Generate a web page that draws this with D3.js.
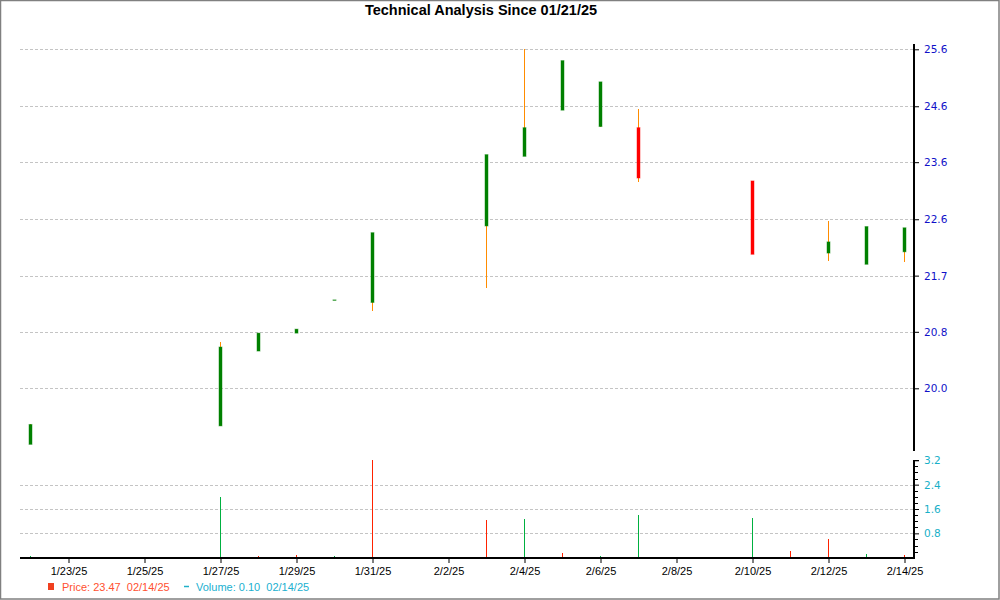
<!DOCTYPE html>
<html><head><meta charset="utf-8">
<script src="https://cdn.jsdelivr.net/npm/d3@7"></script>
<style>body{margin:0;background:#fff}svg{display:block}</style>
</head><body>
<script>
const title = "Technical Analysis Since 01/21/25";
const dates = ["2025-01-22","2025-01-27","2025-01-28","2025-01-29","2025-01-30","2025-01-31","2025-02-03","2025-02-04","2025-02-05","2025-02-06","2025-02-07","2025-02-10","2025-02-11","2025-02-12","2025-02-13","2025-02-14"];
const open  = [19.20, 19.46, 20.55, 20.82, 21.33, 21.29, 22.51, 23.68, 24.49, 24.20, 24.18, 23.26, null, 22.07, 21.89, 22.09];
const high  = [19.48, 20.69, 20.82, 20.88, 21.33, 22.40, 23.71, 25.60, 25.39, 25.00, 24.51, 23.26, null, 22.59, 22.50, 22.48];
const low   = [19.20, 19.46, 20.55, 20.82, 21.33, 21.16, 21.52, 23.68, 24.49, 24.20, 23.25, 22.05, null, 21.95, 21.89, 21.92];
const close = [19.48, 20.61, 20.82, 20.88, 21.33, 22.40, 23.71, 24.18, 25.39, 25.00, 23.31, 22.05, null, 22.25, 22.50, 22.48];
const volume = [0.06, 2.00, 0.07, 0.10, 0.07, 3.20, 1.24, 1.27, 0.15, 0.07, 1.40, 1.30, 0.22, 0.61, 0.13, 0.09];
const volumeUp = [true, true, false, false, true, false, false, true, false, true, true, true, false, false, true, false];
const priceTicks = [25.6, 24.56, 23.58, 22.62, 21.71, 20.84, 20.0];
const volumeTicks = [0.8, 1.6, 2.4, 3.2];
const volumeMinorTicks = [0.2, 0.4, 0.6, 1.0, 1.2, 1.4, 1.8, 2.0, 2.2, 2.6, 2.8, 3.0];
const xTickDates = ["2025-01-23","2025-01-25","2025-01-27","2025-01-29","2025-01-31","2025-02-02","2025-02-04","2025-02-06","2025-02-08","2025-02-10","2025-02-12","2025-02-14"];
const legendPrice = "Price: 23.47  02/14/25";
const legendVolume = "Volume: 0.10  02/14/25";

const W = 1000, H = 600;
const plotL = 20, plotR = 914;
const svg = d3.select("body").append("svg").attr("width", W).attr("height", H);

svg.append("rect").attr("x",0.5).attr("y",0.5).attr("width",998.5).attr("height",598.5)
  .attr("fill","#fff").attr("stroke","#808080").attr("stroke-width",1.5);

const parse = d3.utcParse("%Y-%m-%d");
const data = dates.map((d,i)=>({date:parse(d), o:open[i], h:high[i], l:low[i], c:close[i], v:volume[i], up:volumeUp[i]}));

const x = d3.scaleUtc().domain([parse("2025-01-22"), parse("2025-02-14")]).range([30.5, 904.5]);
const y = d3.scaleLog().domain([20.0, 25.6]).range([388.3, 49.3]);
const yv = d3.scaleLinear().domain([0, 3.2]).range([557.7, 460.3]);
const px = d => Math.floor(x(d)) + 0.5;

// title
svg.append("text").attr("x", 481).attr("y", 15).attr("text-anchor","middle")
  .attr("font-family","Liberation Sans, Arial, sans-serif").attr("font-weight","bold").attr("font-size",14.5)
  .attr("fill","#000").text(title);

// price grid
svg.append("g").selectAll("line").data(priceTicks).join("line")
  .attr("x1", plotL).attr("x2", plotR).attr("y1", d=>Math.round(y(d))+0.5).attr("y2", d=>Math.round(y(d))+0.5)
  .attr("stroke","#c4c4c4").attr("stroke-dasharray","3,2");
// volume grid
svg.append("g").selectAll("line").data(volumeTicks.filter(d=>d<3.2)).join("line")
  .attr("x1", plotL).attr("x2", plotR).attr("y1", d=>Math.round(yv(d))+0.5).attr("y2", d=>Math.round(yv(d))+0.5)
  .attr("stroke","#c4c4c4").attr("stroke-dasharray","3,2");

// price axis
const pAxis = d3.axisRight(y).tickValues(priceTicks).tickFormat(d3.format(".1f")).tickSize(5).tickPadding(5);
const gp = svg.append("g").attr("transform",`translate(${plotR},0)`).call(pAxis);
gp.select(".domain").remove();
gp.selectAll(".tick line").attr("stroke","#000");
gp.selectAll(".tick text").attr("fill","#1010c8").attr("font-family","DejaVu Sans, Verdana, sans-serif").attr("font-size",10.5);
svg.append("line").attr("x1",plotR).attr("x2",plotR).attr("y1",44).attr("y2",451).attr("stroke","#000").attr("stroke-width",2);

// volume axis
const vAxis = d3.axisRight(yv).tickValues(volumeTicks).tickFormat(d3.format(".1f")).tickSize(5).tickPadding(5);
const gv = svg.append("g").attr("transform",`translate(${plotR},0)`).call(vAxis);
gv.select(".domain").remove();
gv.selectAll(".tick line").attr("stroke","#000");
gv.selectAll(".tick text").attr("fill","#18b0c8").attr("font-family","DejaVu Sans, Verdana, sans-serif").attr("font-size",10.5);
svg.append("g").selectAll("line").data(volumeMinorTicks).join("line")
  .attr("x1",plotR).attr("x2",plotR+4).attr("y1",d=>Math.round(yv(d))+0.5).attr("y2",d=>Math.round(yv(d))+0.5).attr("stroke","#000");
svg.append("line").attr("x1",plotR).attr("x2",plotR+5).attr("y1",460.5).attr("y2",460.5).attr("stroke","#000");
svg.append("line").attr("x1",plotR).attr("x2",plotR).attr("y1",460).attr("y2",559).attr("stroke","#000").attr("stroke-width",2);

// x axis
const xAxis = d3.axisBottom(x).tickValues(xTickDates.map(parse)).tickFormat(d3.utcFormat("%-m/%-d/%y")).tickSize(5).tickPadding(4);
const gx = svg.append("g").attr("transform","translate(0,558)").call(xAxis);
gx.select(".domain").remove();
gx.selectAll(".tick line").attr("stroke","#000");
gx.selectAll(".tick text").attr("fill","#000").attr("font-family","Liberation Sans, Arial, sans-serif").attr("font-size",11);

// volume bars
svg.append("g").selectAll("rect").data(data).join("rect")
  .attr("x", d=>Math.floor(x(d.date))).attr("width", 1)
  .attr("y", d=>yv(d.v)).attr("height", d=>yv(0)-yv(d.v))
  .attr("fill", d=>d.up ? "#00b040" : "#ff2200")
  .attr("shape-rendering","crispEdges");

svg.append("line").attr("x1",plotL).attr("x2",plotR).attr("y1",558).attr("y2",558).attr("stroke","#000").attr("stroke-width",2);

// candles
const cd = data.filter(d=>d.o!=null);
const cg = svg.append("g");
cg.selectAll("rect.wick").data(cd).join("rect").attr("class","wick")
  .attr("x", d=>Math.floor(x(d.date))).attr("width", 1)
  .attr("y", d=>y(d.h)).attr("height", d=>y(d.l)-y(d.h))
  .attr("fill","#ff8c00").attr("shape-rendering","crispEdges");
cg.selectAll("rect.body").data(cd).join("rect").attr("class","body")
  .attr("x", d=>Math.floor(x(d.date))-1)
  .attr("width", 3)
  .attr("y", d=>Math.min(y(d.o), y(d.c)))
  .attr("height", d=>Math.max(0.5, Math.abs(y(d.o)-y(d.c))))
  .attr("fill", d=>d.c>=d.o ? "#008000" : "#ff0000")
  .attr("stroke", d=>d.c>=d.o ? "rgba(0,128,0,0.45)" : "rgba(255,0,0,0.45)")
  .attr("stroke-width",1);

// legend
const lg = svg.append("g").attr("font-family","Liberation Sans, Arial, sans-serif").attr("font-size",11).style("white-space","pre");
lg.append("rect").attr("x",48).attr("y",583).attr("width",6).attr("height",7).attr("fill","#f04020");
lg.append("text").attr("x",62).attr("y",591).attr("fill","#ff5030").attr("xml:space","preserve").text(legendPrice);
lg.append("line").attr("x1",184).attr("x2",189).attr("y1",586.5).attr("y2",586.5).attr("stroke","#20b0c8").attr("stroke-width",1.5);
lg.append("text").attr("x",196).attr("y",591).attr("fill","#20b0d0").attr("xml:space","preserve").text(legendVolume);
</script>
</body></html>
